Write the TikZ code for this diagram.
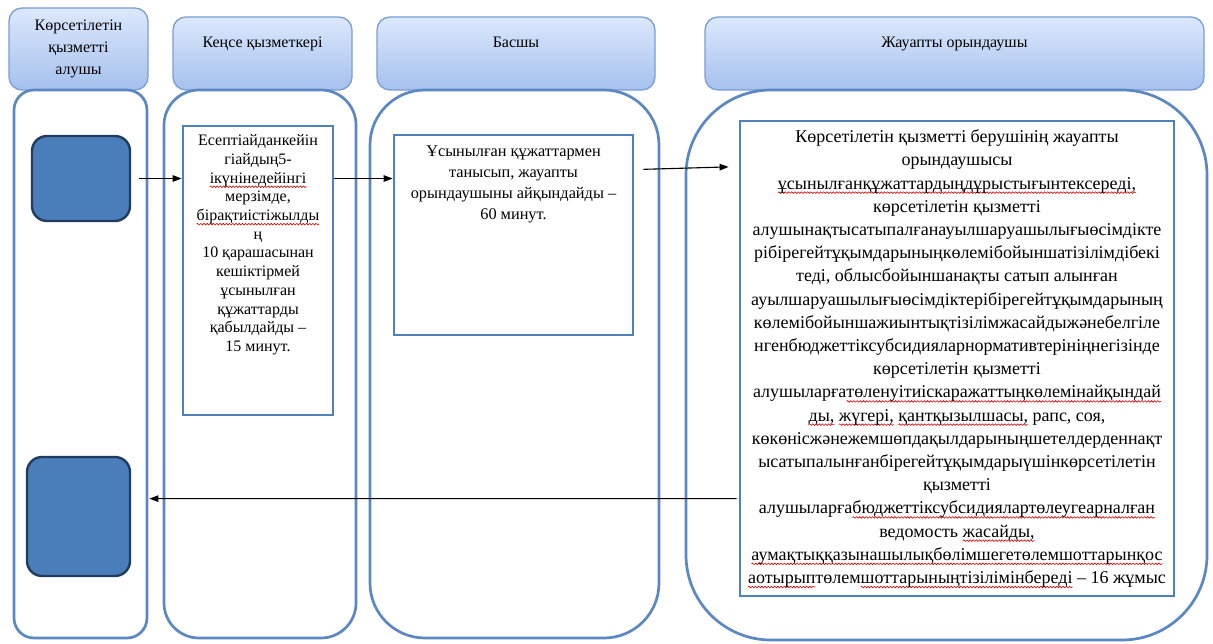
\documentclass[tikz,border=0pt]{standalone}
\usepackage{fontspec}
\setmainfont{Liberation Serif}
\usetikzlibrary{arrows.meta,calc,decorations.pathmorphing}
\newsavebox\sperrbox
\newcommand\sperr[1]{\sbox\sperrbox{#1}\leavevmode\rlap{\tikz[baseline=0pt,x=1pt,y=1pt]{\useasboundingbox (0,0);\draw[overlay,red!85!black,line width=0.6pt,decorate,decoration={snake,amplitude=0.8pt,segment length=3.2pt}] (0,-3.6) -- (\the\wd\sperrbox,-3.6);}}\usebox\sperrbox}
\definecolor{laneline}{HTML}{5B87C2}
\definecolor{hdrtop}{HTML}{DCE8FC}
\definecolor{hdrbot}{HTML}{A5C1EE}
\definecolor{hdrline}{HTML}{7A9ED4}
\definecolor{boxfill}{HTML}{4A7EBB}
\definecolor{boxline}{HTML}{213C5E}
\definecolor{tboxline}{HTML}{4F81BD}
\tikzset{
  hdr/.style={draw=hdrline, line width=1.3pt, top color=hdrtop, bottom color=hdrbot,
    rounded corners=13pt, inner sep=0pt},
  hdrtxt/.style={font=\fontsize{16}{22}\selectfont, inner sep=0pt, align=center},
  lanebox/.style={draw=laneline, line width=2.7pt, fill=white, inner sep=0pt},
  bluebox/.style={draw=boxline, line width=2.4pt, fill=boxfill, rounded corners=15pt, inner sep=0pt},
  textbox/.style={draw=tboxline, line width=2.8pt, fill=white, inner sep=0pt},
  arr/.style={-{Triangle[length=9pt,width=6.5pt]}, line width=1.1pt, black}
}
\begin{document}
\begin{tikzpicture}[x=1pt,y=-1pt]
\useasboundingbox[fill=white] (0,0) rectangle (1213,644);
% headers
\node[hdr, hdrtxt, minimum width=139, minimum height=82] (h1) at (78.5,49) {Көрсетілетін\\қызметті\\алушы};
\node[hdr, minimum width=179, minimum height=73] (h2) at (262.5,53.5) {};
\node[hdrtxt, anchor=base] (h2t) at ($(h2.north)+(0,31)$) {Кеңсе қызметкері};
\node[hdr, minimum width=278, minimum height=73] (h3) at (516,53.5) {};
\node[hdrtxt, anchor=base] (h3t) at ($(h3.north)+(0,31)$) {Басшы};
\node[hdr, minimum width=499, minimum height=73] (h4) at (954.5,53.5) {};
\node[hdrtxt, anchor=base] (h4t) at ($(h4.north)+(0,31)$) {Жауапты орындаушы};
% lanes
\node[lanebox, rounded corners=20pt, minimum width=133, minimum height=548] (L1) at (80.5,364) {};
\node[lanebox, rounded corners=35pt, minimum width=192, minimum height=548] (L2) at (260,364) {};
\node[lanebox, rounded corners=55pt, minimum width=289, minimum height=548] (L3) at (514.5,364) {};
\node[lanebox, rounded corners=85pt, minimum width=521, minimum height=550] (L4) at (946.5,365) {};
% blue boxes
\node[bluebox, minimum width=98, minimum height=85] (A) at (81,178.5) {};
\node[bluebox, minimum width=103, minimum height=119] (B) at (78.5,516.5) {};
% text boxes
\node[textbox, minimum width=150, minimum height=289] (T2) at (258,270.5) {};
\node[anchor=north, align=center, inner sep=0pt, font=\fontsize{16}{18.7}\selectfont] (T2t) at ($(T2.north)+(0,10)$)
 {Есептіайданкейін\\
гіайдың5-\\
\sperr{ікүнінедейінгі}\\
мерзімде,\\
\sperr{бірақтиістіжылды}\\
ң\\
10 қарашасынан\\
кешіктірмей\\
ұсынылған\\
құжаттарды\\
қабылдайды –\\
15 минут.};
\node[textbox, minimum width=239, minimum height=200] (T3) at (513.5,235) {};
\node[anchor=north, align=center, inner sep=0pt, font=\fontsize{16.3}{21}\selectfont] (T3t) at ($(T3.north)+(0,12)$)
 {Ұсынылған құжаттармен\\
танысып, жауапты\\
орындаушыны айқындайды –\\
60 минут.};
\node[textbox, minimum width=434, minimum height=475, align=center, font=\fontsize{18}{23.2}\selectfont] (T4) at (957,358.5)
 {Көрсетілетін қызметті берушінің жауапты\\
орындаушысы\\
\sperr{ұсынылғанқұжаттардыңдұрыстығынтексереді,}\\
көрсетілетін қызметті\\
алушынақтысатыпалғанауылшаруашылығыөсімдікте\\
рібірегейтұқымдарыныңкөлемібойыншатізілімдібекі\\
теді, облысбойыншанақты сатып алынған\\
ауылшаруашылығыөсімдіктерібірегейтұқымдарының\\
көлемібойыншажиынтықтізілімжасайдыжәнебелгіле\\
нгенбюджеттіксубсидияларнормативтерініңнегізінде\\
көрсетілетін қызметті\\
алушыларға\sperr{төленуітиіскаражаттыңкөлемінайқындай}\\
\sperr{ды,} \sperr{жүгері,} \sperr{қантқызылшасы,} рапс, соя,\\
көкөнісжәнежемшөпдақылдарыныңшетелдерденнақт\\
ысатыпалынғанбірегейтұқымдарыүшінкөрсетілетін\\
қызметті\\
алушыларға\sperr{бюджеттіксубсидиялартөлеугеарналған}\\
ведомость \sperr{жасайды,}\\
\sperr{аумақтыққазынашылықбөлімшегетөлемшоттарынқос}\\
\sperr{аотырып}төлем\sperr{шоттарыныңтізілімінбереді} – 16 жұмыс};
% arrows
\draw[arr, shorten <=8pt] (A.east) -- (A.east -| T2.west);
\draw[arr] (A.east -| T2.east) -- (A.east -| T3.west);
\draw[arr, shorten <=9pt, shorten >=10pt] ($(T3.north east)+(0,36)$) -- ($(T4.north west)+(0,47)$);
\draw[arr] ($(T4.north west)+(-2,379)$) -- ($(L1.north east)+(1,410)$);
\end{tikzpicture}
\end{document}
